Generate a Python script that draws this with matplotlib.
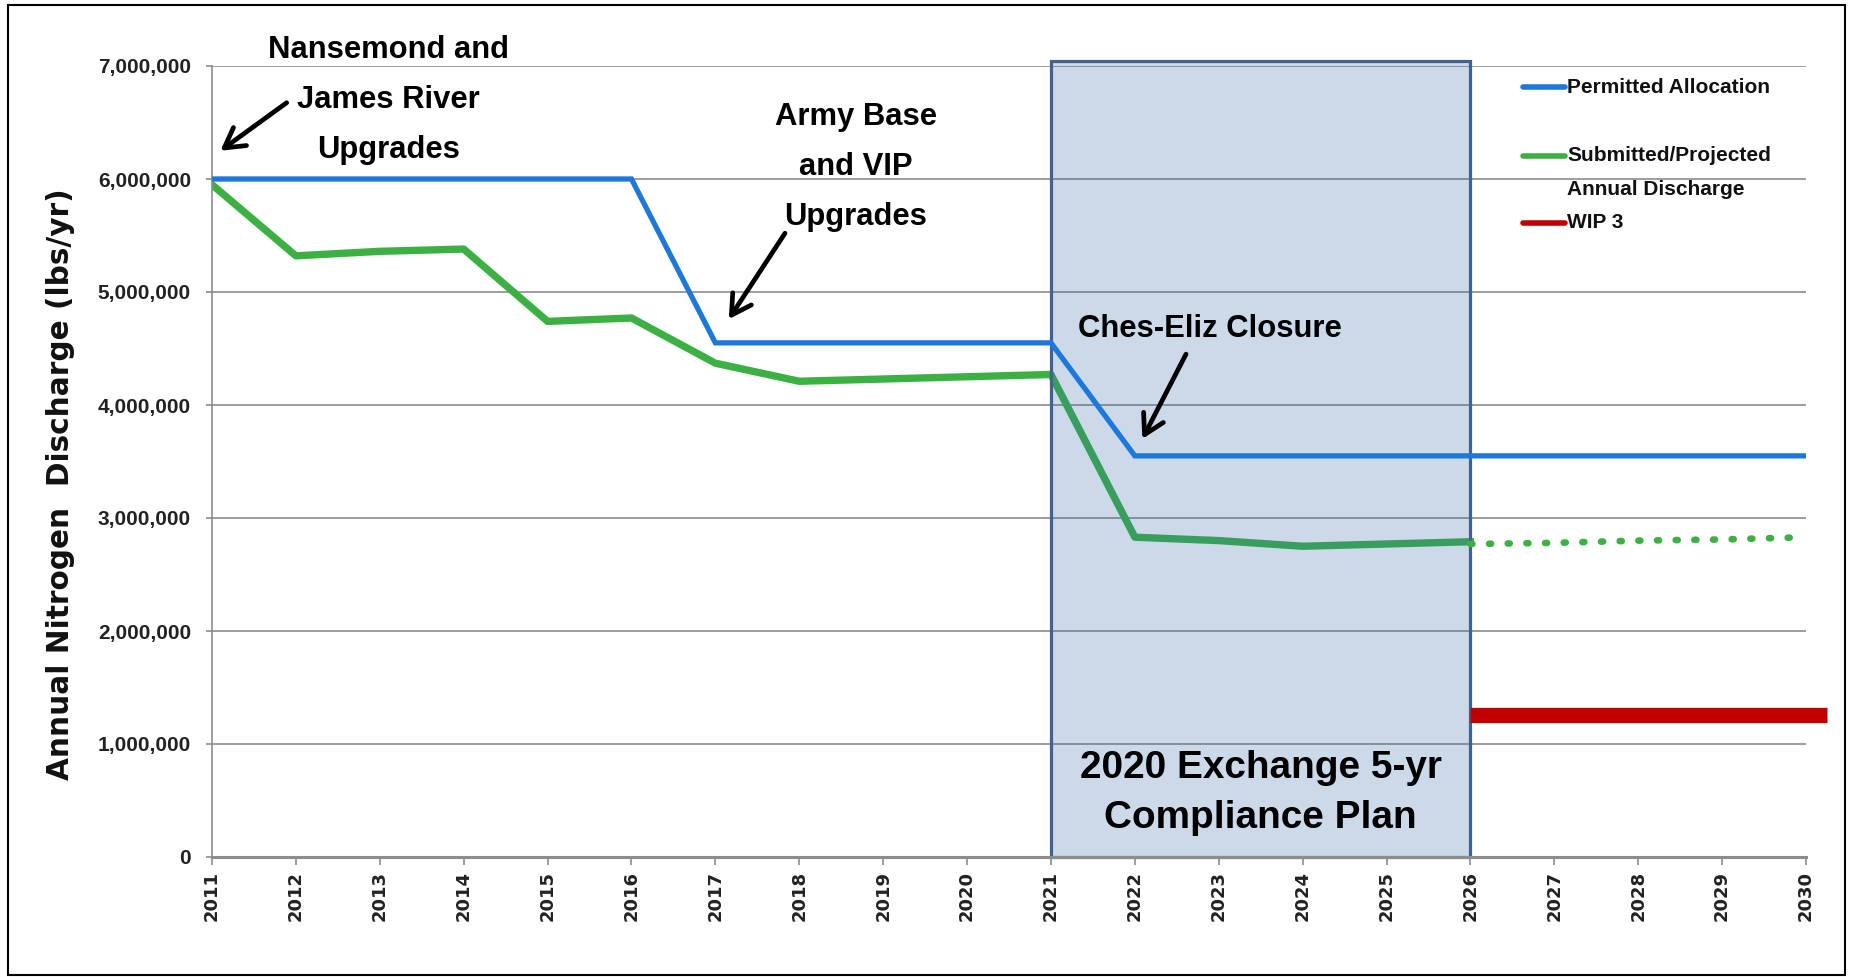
import matplotlib
matplotlib.use("Agg")
import matplotlib.pyplot as plt
from matplotlib import font_manager
from matplotlib.patches import Rectangle
from matplotlib.ticker import FuncFormatter

# ---------------- data ----------------
years = [2011, 2012, 2013, 2014, 2015, 2016, 2017, 2018, 2019, 2020,
         2021, 2022, 2023, 2024, 2025, 2026, 2027, 2028, 2029, 2030]
permitted = [6000000, 6000000, 6000000, 6000000, 6000000, 6000000,
             4550000, 4550000, 4550000, 4550000, 4550000,
             3550000, 3550000, 3550000, 3550000, 3550000,
             3550000, 3550000, 3550000, 3550000]
submitted_years = [2011, 2012, 2013, 2014, 2015, 2016, 2017, 2018,
                   2019, 2020, 2021, 2022, 2023, 2024, 2025, 2026]
submitted = [5950000, 5320000, 5360000, 5380000, 4740000, 4770000,
             4370000, 4210000, 4230000, 4250000, 4270000,
             2830000, 2800000, 2750000, 2770000, 2790000]
projected_years = [2026, 2027, 2028, 2029, 2030]
projected = [2770000, 2780000, 2800000, 2810000, 2830000]
wip3_years = [2026, 2030]
wip3 = [1260000, 1260000]
plan_start, plan_end = 2021, 2026
yticks = [0, 1000000, 2000000, 3000000, 4000000, 5000000, 6000000, 7000000]
legend_labels = ["Permitted Allocation", "Submitted/Projected\nAnnual Discharge", "WIP 3"]

# ---------------- fonts ----------------
def has_font(name):
    try:
        font_manager.findfont(font_manager.FontProperties(family=name),
                              fallback_to_default=False)
        return True
    except Exception:
        return False

if has_font("Liberation Sans Narrow"):
    NARROW, NS = "Liberation Sans Narrow", 1.0
else:
    NARROW, NS = "Liberation Sans", 0.86
WIDE = "DejaVu Sans"
SANS = "Liberation Sans"

BLUE = "#1E78DA"
GREEN = "#3CB043"
RED = "#C00000"
GRID = "#8c8c8c"

W, H = 1851, 977
fig = plt.figure(figsize=(W / 100, H / 100), dpi=100)
ax = fig.add_axes([212 / W, 1 - 857 / H, 1594 / W, 791 / H])

ax.set_xlim(years[0], years[-1])
ax.set_ylim(0, 7000000)

# plan box (semi-transparent overlay)
box = Rectangle((plan_start, 0), plan_end - plan_start, 7040000,
                facecolor=(51 / 255, 107 / 255, 171 / 255, 0.25),
                edgecolor="#41618F", linewidth=2.3, zorder=2.5, clip_on=False)
ax.add_patch(box)

ax.plot(submitted_years, submitted, color=GREEN, lw=5.3, zorder=2,
        solid_joinstyle="round")
ax.plot(years, permitted, color=BLUE, lw=3.8, zorder=3, solid_joinstyle="miter")
ax.plot(projected_years, projected, color=GREEN, lw=4.8,
        linestyle=(0, (0.3, 2.5)), dash_capstyle="round", zorder=3)
WIP_OVERHANG = 0.25
ax.plot([wip3_years[0], wip3_years[1] + WIP_OVERHANG], wip3, color=RED, lw=11,
        solid_capstyle="butt", zorder=3, clip_on=False)

# axes styling
for s in ("top", "right"):
    ax.spines[s].set_visible(False)
ax.spines["left"].set_color(GRID)
ax.spines["left"].set_linewidth(1.2)
ax.spines["bottom"].set_color(GRID)
ax.spines["bottom"].set_linewidth(2.2)
ax.set_axisbelow(True)
ax.yaxis.grid(True, color=GRID, lw=1.2)

ax.set_yticks(yticks)
ax.yaxis.set_major_formatter(FuncFormatter(lambda v, p: f"{v:,.0f}"))
ax.set_xticks(years)
ax.set_xticklabels([str(y) for y in years], rotation=90)
ax.tick_params(axis="y", length=4.3, width=1.2, color=GRID, pad=10.8)
ax.tick_params(axis="x", length=5.8, width=1.2, color=GRID, pad=4.3)
for lab in ax.get_yticklabels():
    lab.set_fontfamily(SANS)
    lab.set_fontweight("bold")
    lab.set_fontsize(15)
    lab.set_color("#222222")
for lab in ax.get_xticklabels():
    lab.set_fontfamily(WIDE)
    lab.set_fontweight("bold")
    lab.set_fontsize(13)
    lab.set_color("#222222")

ax.set_ylabel("Annual Nitrogen  Discharge (lbs/yr)", fontfamily=WIDE,
              fontweight="bold", fontsize=21.3, color="#111111")
ax.yaxis.label.set_va("center")
ax.yaxis.set_label_coords((61 - 212) / 1594, (857 - 484) / 791)

# annotations
ann_kw = dict(fontfamily=NARROW, fontweight="bold", fontsize=26 * NS,
              ha="center", va="center", linespacing=1.87, color="black",
              zorder=6)
ax.text(2013.10, 6700000, "Nansemond and\nJames River\nUpgrades", **ann_kw)
ax.text(2018.675, 6110000, "Army Base\nand VIP\nUpgrades", **ann_kw)
ax.text(2022.90, 4670000, "Ches-Eliz Closure", **ann_kw)

arrow_kw = dict(arrowstyle="->,head_length=0.7,head_width=0.4", lw=3.4,
                color="black", shrinkA=0, shrinkB=0, mutation_scale=20)
for tail, tip in [((2011.89, 6675000), (2011.10, 6250000)),
                  ((2017.83, 5520000), (2017.16, 4760000)),
                  ((2022.61, 4450000), (2022.09, 3700000))]:
    ax.annotate("", xy=tip, xytext=tail, arrowprops=arrow_kw,
                annotation_clip=False, zorder=6)

ax.text((plan_start + plan_end) / 2, 565000, "2020 Exchange 5-yr\nCompliance Plan",
        fontfamily=NARROW, fontweight="bold", fontsize=34 * 0.82, ha="center",
        va="center", linespacing=1.5, color="black", zorder=6)

# legend (manual, axes coordinates)
def ay(ypix):
    return (857 - ypix) / 791

hx0, hx1, tx = (1523 - 212) / 1594, (1565 - 212) / 1594, (1567 - 212) / 1594
for color, label, ycen in zip([BLUE, GREEN, RED], legend_labels, [87.4, 155.8, 223]):
    ax.plot([hx0, hx1], [ay(ycen), ay(ycen)], transform=ax.transAxes,
            color=color, lw=4.0, solid_capstyle="round", clip_on=False, zorder=7)
    for k, line in enumerate(label.split("\n")):
        ax.text(tx, ay(ycen + 34 * k), line, transform=ax.transAxes,
                fontfamily=NARROW, fontweight="bold", fontsize=17.5 * NS,
                ha="left", va="center", color="#111111", zorder=7)

# figure border
fig.add_artist(Rectangle((8 / W, 1 - 975 / H), (1845 - 8) / W, (975 - 5) / H,
                         transform=fig.transFigure, fill=False,
                         edgecolor="black", lw=1.5))

fig.savefig("out.png", dpi=100)
